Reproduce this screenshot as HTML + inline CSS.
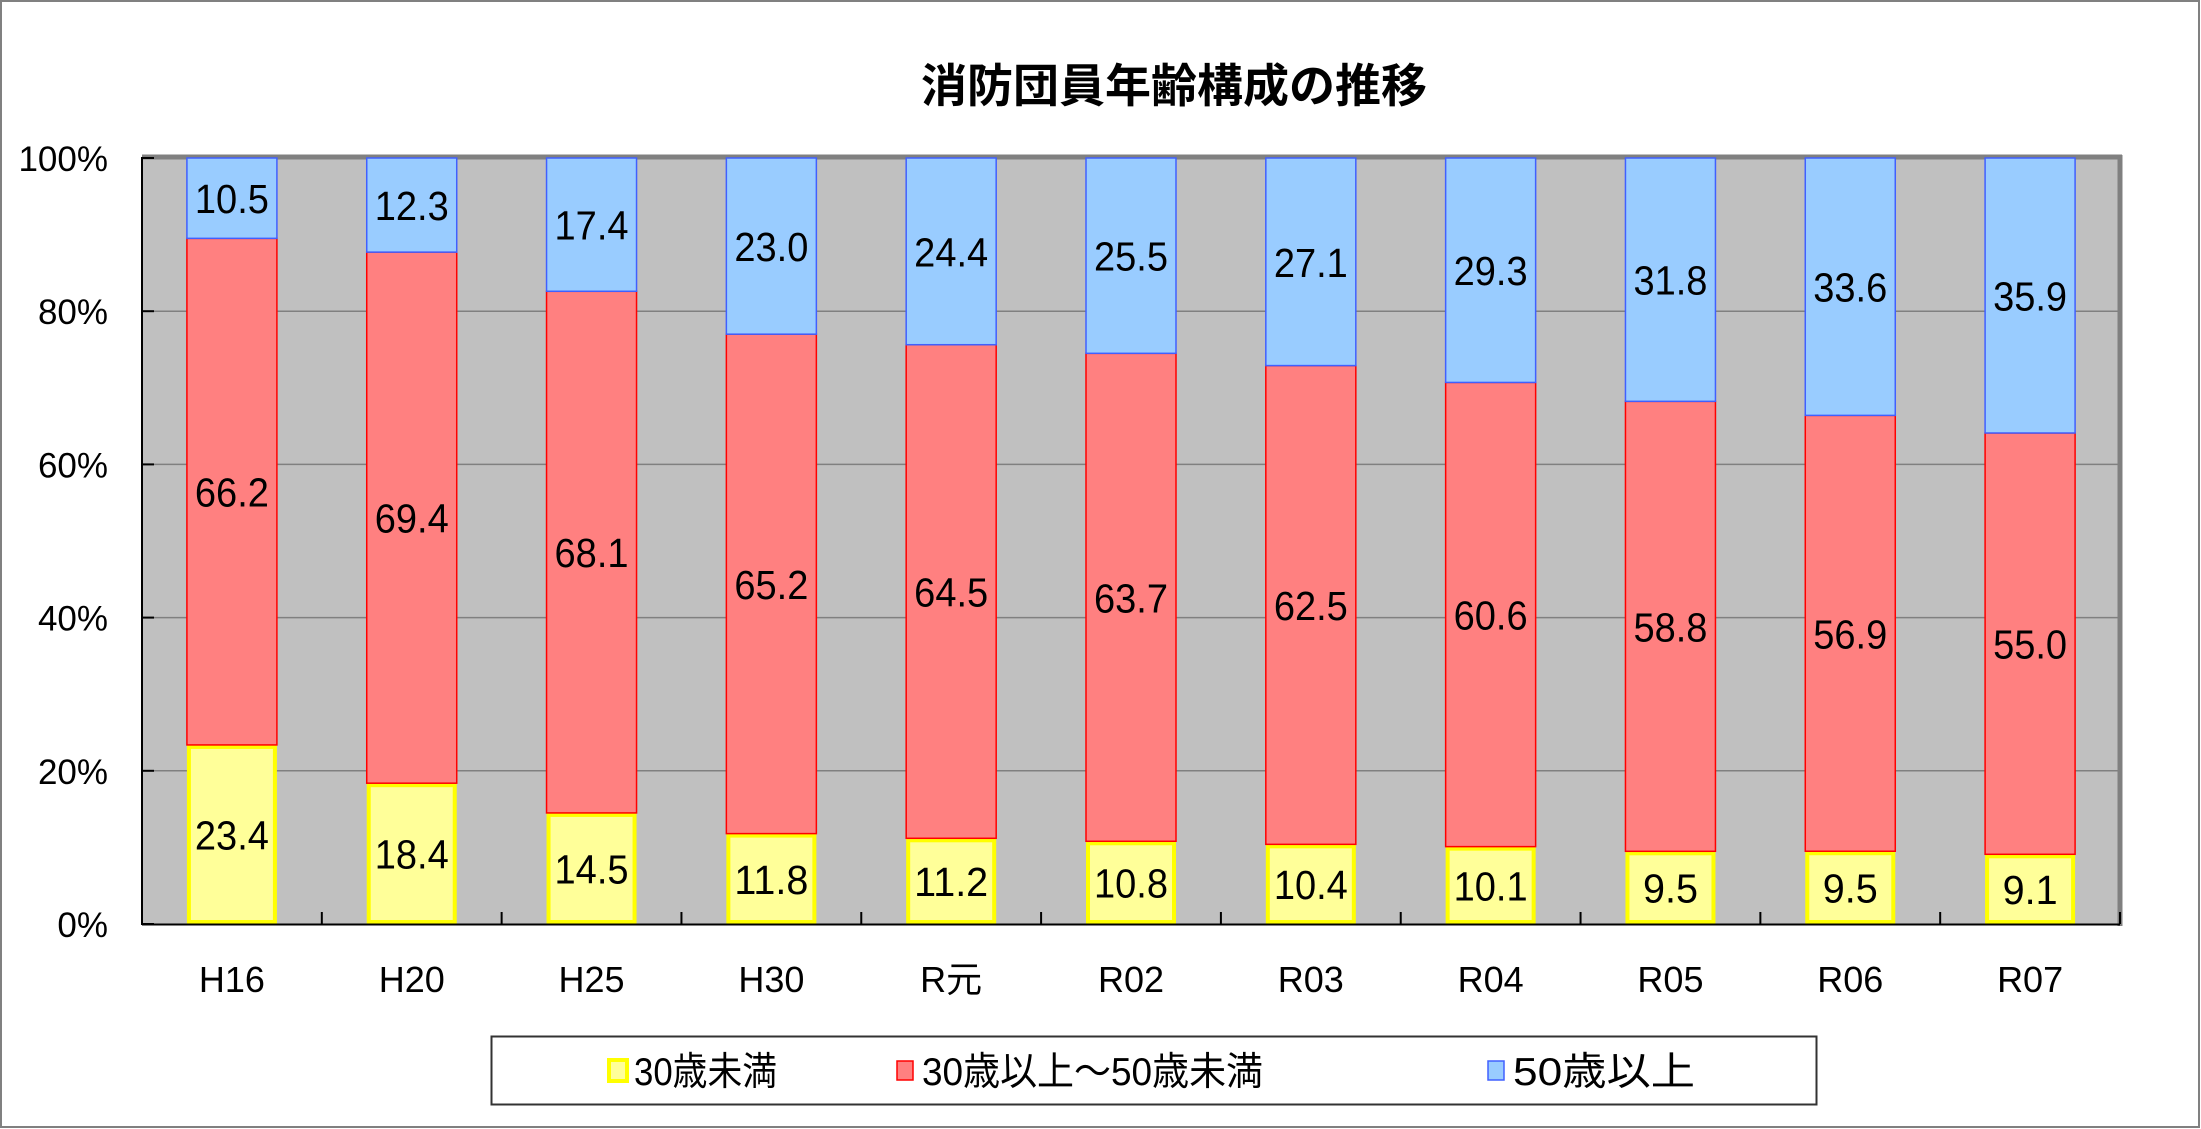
<!DOCTYPE html>
<html><head><meta charset="utf-8"><style>
html,body{margin:0;padding:0;background:#fff;overflow:hidden}
svg{display:block}
text{font-family:"Liberation Sans","Noto Sans CJK JP",sans-serif}
</style></head><body>
<svg id="s" width="2201" height="1129" xmlns="http://www.w3.org/2000/svg">
<rect x="1" y="1" width="2198" height="1126" fill="#fff" stroke="#808080" stroke-width="2"/>
<text x="1174" y="102" font-size="46" font-weight="bold" text-anchor="middle" style="font-family:'Noto Sans CJK JP',sans-serif">消防団員年齢構成の推移</text>
<rect x="142" y="158" width="1978" height="766" fill="#c0c0c0"/>
<g id="grid" stroke="#808080" stroke-width="1.5"></g>
<line x1="142" y1="157" x2="2122" y2="157" stroke="#808080" stroke-width="5"/>
<line x1="2120" y1="155" x2="2120" y2="926" stroke="#808080" stroke-width="5"/>
<g id="bars"></g>
<line x1="142" y1="157" x2="142" y2="925" stroke="#000" stroke-width="2"/>
<line x1="142" y1="924.5" x2="2120" y2="924.5" stroke="#000" stroke-width="2"/>
<g id="ticks" stroke="#000" stroke-width="2"></g>
<g id="labels"></g>
<rect x="491.5" y="1036.5" width="1325" height="68" fill="#fff" stroke="#333" stroke-width="2"/>
<rect x="609" y="1060" width="18" height="21" fill="#ffff99" stroke="#ffff00" stroke-width="4"/>
<text x="634" y="1085" font-size="39" textLength="143" lengthAdjust="spacingAndGlyphs">30歳未満</text>
<rect x="897" y="1061" width="16" height="19" fill="#ff8080" stroke="#ff0000" stroke-width="1.5"/>
<text x="922" y="1085" font-size="39" textLength="341" lengthAdjust="spacingAndGlyphs">30歳以上～50歳未満</text>
<rect x="1488" y="1061" width="16" height="19" fill="#99ccff" stroke="#4060ff" stroke-width="1.5"/>
<text x="1513" y="1085" font-size="39" textLength="182" lengthAdjust="spacingAndGlyphs">50歳以上</text>
</svg>
<script>
(function(){
var NS="http://www.w3.org/2000/svg";
function el(p,t,a,txt){var e=document.createElementNS(NS,t);for(var k in a)e.setAttribute(k,a[k]);if(txt!==undefined)e.textContent=txt;document.getElementById(p).appendChild(e);return e;}
var pTop=158,bot=924,H=bot-pTop,L=142,cw=(2120-142)/11;
for(var i=1;i<5;i++){var y=bot-H*i/5;el("grid","line",{x1:L,y1:y,x2:2120,y2:y});}
for(var i=0;i<=5;i++){var y=bot-H*i/5;el("ticks","line",{x1:L,y1:y,x2:L+12,y2:y});
 el("labels","text",{x:108,y:y+13,"font-size":35,"text-anchor":"end"},(i*20)+"%");}
for(var i=0;i<=11;i++){var x=L+cw*i;el("ticks","line",{x1:x,y1:bot-12,x2:x,y2:bot});}
var cats=["H16","H20","H25","H30","R元","R02","R03","R04","R05","R06","R07"];
var d=[[23.4,66.2,10.5],[18.4,69.4,12.3],[14.5,68.1,17.4],[11.8,65.2,23.0],[11.2,64.5,24.4],[10.8,63.7,25.5],[10.4,62.5,27.1],[10.1,60.6,29.3],[9.5,58.8,31.8],[9.5,56.9,33.6],[9.1,55.0,35.9]];
var fills=["#ffff99","#ff8080","#99ccff"],strokes=["#ffff00","#ff0000","#4060ff"],sw=[4,1.5,1.5];
for(var i=0;i<11;i++){var cx=L+cw*(i+0.5),bw=90,x0=cx-bw/2;var tot=d[i][0]+d[i][1]+d[i][2];var acc=0;
 for(var j=0;j<3;j++){var v=d[i][j]/tot*100;var y1=bot-H*(acc+v)/100,y2=bot-H*acc/100;acc+=v;
  var o=(j==0)?sw[j]/2:0;
  el("bars","rect",{x:x0+o,y:y1+o,width:bw-2*o,height:y2-y1-2*o,fill:fills[j],stroke:strokes[j],"stroke-width":sw[j]});
  var s=d[i][j].toFixed(1);
  el("bars","text",{x:cx,y:(y1+y2)/2+15,"font-size":41,"text-anchor":"middle",textLength:(s.length==4?74:55),lengthAdjust:"spacingAndGlyphs"},s);}
 el("labels","text",{x:cx,y:992,"font-size":36,"text-anchor":"middle"},cats[i]);}
})();
</script>
</body></html>
